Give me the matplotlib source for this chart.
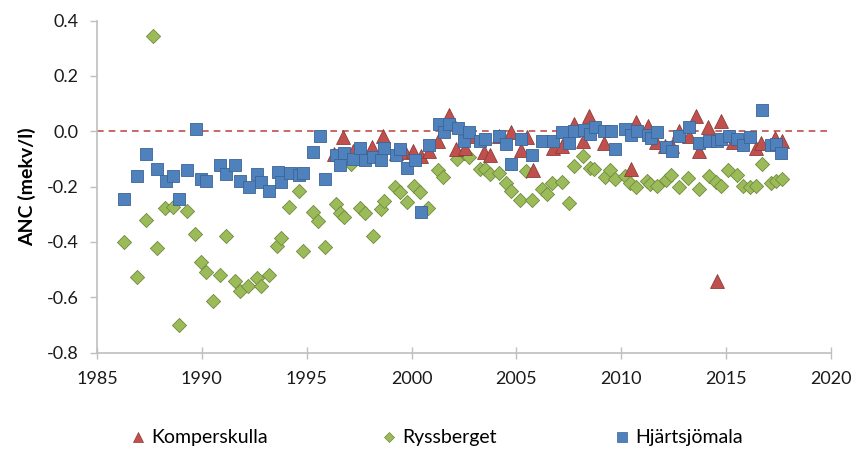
import matplotlib
matplotlib.use("Agg")
import matplotlib.pyplot as plt
from matplotlib.lines import Line2D

# ---------------- data ----------------
kom_year = [1996.30, 1996.73, 1997.21, 1998.10, 1998.65, 1999.27, 1999.67, 2000.08, 2000.46,
            2000.82, 2001.25, 2001.78, 2002.14, 2002.57, 2002.89, 2003.44, 2003.76, 2004.19,
            2004.73, 2005.20, 2005.52, 2005.78, 2006.73, 2007.17, 2007.75, 2008.18, 2008.48,
            2009.19, 2010.46, 2010.70, 2011.28, 2011.64, 2012.09, 2012.44, 2012.73, 2013.21,
            2013.58, 2013.70, 2014.15, 2014.55, 2014.75, 2015.35, 2016.41, 2016.67, 2017.33,
            2017.65]
kom_anc = [-0.082, -0.022, -0.070, -0.056, -0.019, -0.078, -0.074, -0.070, -0.091,
           -0.070, -0.037, 0.060, -0.064, -0.060, -0.016, -0.076, -0.086, -0.016,
           -0.004, -0.069, -0.022, -0.140, -0.060, -0.052, 0.026, -0.034, 0.056,
           -0.041, -0.136, 0.033, 0.020, -0.040, -0.054, -0.052, -0.001, -0.017,
           0.056, -0.070, 0.014, -0.540, 0.038, -0.040, -0.062, -0.041, -0.025,
           -0.034]

rys_year = [1986.30, 1986.89, 1987.32, 1987.68, 1987.86, 1988.25, 1988.62, 1988.90, 1989.27,
            1989.68, 1989.94, 1990.19, 1990.52, 1990.86, 1991.17, 1991.57, 1991.81, 1992.22,
            1992.62, 1992.81, 1993.21, 1993.60, 1993.78, 1994.17, 1994.62, 1994.81, 1995.30,
            1995.54, 1995.86, 1996.38, 1996.57, 1996.78, 1997.13, 1997.52, 1997.79, 1998.16,
            1998.52, 1998.68, 1999.19, 1999.43, 1999.78, 2000.11, 2000.41, 2000.77, 2001.25,
            2001.52, 2002.18, 2002.50, 2002.76, 2003.26, 2003.51, 2003.76, 2004.16, 2004.50,
            2004.73, 2005.19, 2005.46, 2005.75, 2006.22, 2006.45, 2006.71, 2007.16, 2007.52,
            2007.73, 2008.18, 2008.50, 2008.72, 2009.21, 2009.48, 2009.72, 2010.20, 2010.42,
            2010.71, 2011.23, 2011.37, 2011.70, 2012.12, 2012.39, 2012.75, 2013.20, 2013.70,
            2014.16, 2014.51, 2014.75, 2015.11, 2015.54, 2015.78, 2016.12, 2016.41, 2016.70,
            2017.14, 2017.38, 2017.65]
rys_anc = [-0.401, -0.526, -0.322, 0.344, -0.422, -0.279, -0.275, -0.699, -0.287,
           -0.371, -0.472, -0.510, -0.613, -0.519, -0.378, -0.540, -0.579, -0.561,
           -0.531, -0.558, -0.519, -0.414, -0.387, -0.275, -0.218, -0.432, -0.293,
           -0.323, -0.420, -0.263, -0.295, -0.311, -0.120, -0.277, -0.295, -0.380,
           -0.281, -0.251, -0.200, -0.221, -0.257, -0.197, -0.220, -0.278, -0.141,
           -0.165, -0.100, -0.080, -0.094, -0.138, -0.138, -0.154, -0.150, -0.186,
           -0.215, -0.249, -0.145, -0.249, -0.209, -0.227, -0.189, -0.182, -0.259,
           -0.126, -0.088, -0.132, -0.135, -0.165, -0.140, -0.174, -0.162, -0.186,
           -0.201, -0.180, -0.191, -0.199, -0.176, -0.158, -0.201, -0.170, -0.210,
           -0.163, -0.182, -0.197, -0.142, -0.160, -0.198, -0.203, -0.199, -0.118,
           -0.186, -0.179, -0.174]

hja_year = [1986.30, 1986.89, 1987.33, 1987.87, 1988.27, 1988.62, 1988.92, 1989.29, 1989.70,
            1989.94, 1990.19, 1990.87, 1991.17, 1991.60, 1991.82, 1992.24, 1992.62, 1992.82,
            1993.22, 1993.63, 1993.79, 1994.19, 1994.62, 1994.82, 1995.30, 1995.65, 1995.86,
            1996.38, 1996.60, 1996.78, 1997.21, 1997.56, 1997.78, 1998.16, 1998.52, 1998.68,
            1999.24, 1999.43, 1999.78, 2000.14, 2000.43, 2000.81, 2001.30, 2001.54, 2001.78,
            2002.21, 2002.52, 2002.76, 2003.24, 2003.52, 2004.16, 2004.51, 2004.76, 2005.22,
            2005.75, 2006.22, 2006.73, 2007.17, 2007.49, 2007.76, 2008.24, 2008.50, 2008.73,
            2009.19, 2009.51, 2009.71, 2010.20, 2010.46, 2010.75, 2011.25, 2011.44, 2011.72,
            2012.11, 2012.41, 2012.75, 2013.21, 2013.70, 2014.16, 2014.58, 2014.75, 2015.12,
            2015.54, 2015.78, 2016.16, 2016.70, 2017.15, 2017.39, 2017.63]
hja_anc = [-0.245, -0.163, -0.083, -0.136, -0.181, -0.163, -0.245, -0.140, 0.008,
           -0.172, -0.181, -0.121, -0.154, -0.121, -0.181, -0.200, -0.154, -0.184,
           -0.215, -0.146, -0.182, -0.151, -0.160, -0.151, -0.076, -0.019, -0.172,
           -0.086, -0.122, -0.080, -0.100, -0.061, -0.106, -0.094, -0.106, -0.061,
           -0.086, -0.064, -0.132, -0.106, -0.291, -0.050, 0.026, -0.002, 0.026,
           0.012, -0.036, -0.002, -0.037, -0.030, -0.017, -0.046, -0.119, -0.028,
           -0.087, -0.035, -0.037, -0.003, -0.041, 0.002, 0.005, -0.010, 0.014,
           0.001, 0.001, -0.063, 0.007, -0.013, 0.000, -0.013, -0.024, -0.002,
           -0.058, -0.070, -0.016, 0.014, -0.042, -0.034, -0.034, -0.028, -0.018,
           -0.028, -0.051, -0.022, 0.075, -0.050, -0.048, -0.079]

series_names = ["Komperskulla", "Ryssberget", "Hjärtsjömala"]
x_ticks = [1985, 1990, 1995, 2000, 2005, 2010, 2015, 2020]
y_ticks = [-0.8, -0.6, -0.4, -0.2, 0.0, 0.2, 0.4]

# ---------------- style ----------------
plt.rcParams['font.family'] = ['Lato', 'DejaVu Sans']
RED, RED_E = '#C0504D', '#8E3B39'
GRN, GRN_E = '#9BBB59', '#71893F'
BLU, BLU_E = '#4F81BD', '#3A6496'
AXC = '#BFBFBF'

fig = plt.figure(figsize=(8.54, 4.50), dpi=100)
ax = fig.add_axes([97/854, 1-352.5/450, (831-97)/854, (352.5-20.5)/450])

ax.axhline(0, color='#C0504D', lw=1.2, ls=(0, (4, 3)), zorder=1)

ax.scatter(rys_year, rys_anc, marker='D', s=52, c=GRN, edgecolors=GRN_E, linewidths=0.6, zorder=2)
ax.scatter(kom_year, kom_anc, marker='^', s=100, c=RED, edgecolors=RED_E, linewidths=0.6, zorder=3)
ax.scatter(hja_year, hja_anc, marker='s', s=85, c=BLU, edgecolors=BLU_E, linewidths=0.6, zorder=4)

ax.set_xlim(1985, 2020)
ax.set_ylim(-0.8, 0.4)
ax.set_xticks(x_ticks)
ax.set_yticks(y_ticks)
ax.set_yticklabels([f"{v:.1f}" for v in y_ticks])
for s in ['top', 'right']:
    ax.spines[s].set_visible(False)
for s in ['left', 'bottom']:
    ax.spines[s].set_color(AXC)
    ax.spines[s].set_linewidth(1.2)
ax.tick_params(axis='y', direction='out', length=5, width=1, color=AXC, pad=8,
               labelsize=13, labelcolor='#1a1a1a')
ax.tick_params(axis='x', direction='inout', length=9, width=1, color=AXC, pad=9,
               labelsize=13, labelcolor='#1a1a1a')
ax.set_ylabel("ANC (mekv/l)", fontsize=14, fontweight='bold', labelpad=8)

markers = ['^', 'D', 's']
faces = [RED, GRN, BLU]
edges = [RED_E, GRN_E, BLU_E]
msizes = [7.5, 5.0, 7.0]
xpos = [130/854, 381/854, 614/854]
for name, m, fc, ec, ms, xp in zip(series_names, markers, faces, edges, msizes, xpos):
    h = Line2D([], [], ls='none', marker=m, markersize=ms, markerfacecolor=fc,
               markeredgecolor=ec, markeredgewidth=0.5)
    fig.legend([h], [name], loc='center left', bbox_to_anchor=(xp, 0.027),
               frameon=False, fontsize=14, handlelength=0.8, handletextpad=0.3,
               borderpad=0, borderaxespad=0)

fig.savefig("out.png", dpi=100)
